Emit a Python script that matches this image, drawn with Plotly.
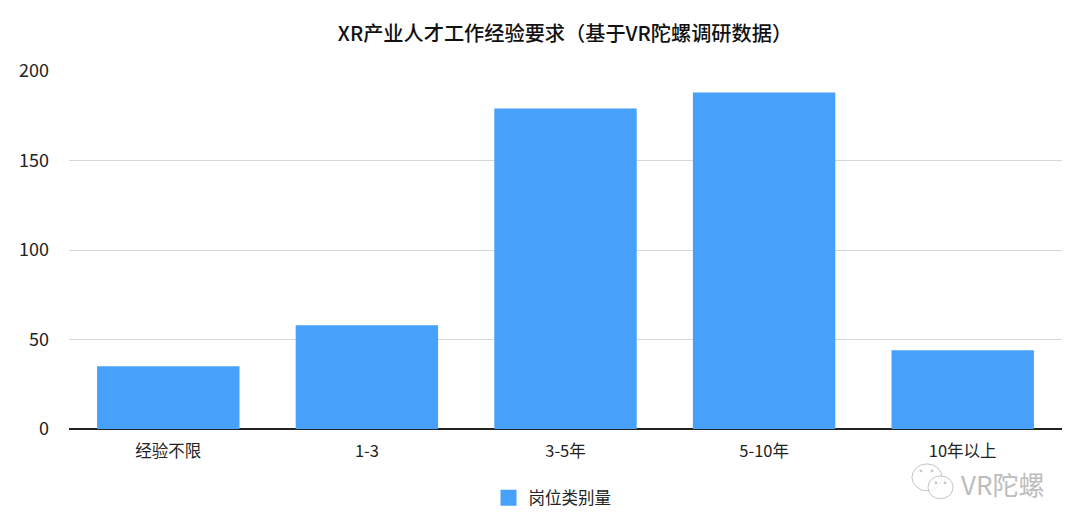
import plotly.graph_objects as go

categories = ["经验不限", "1-3", "3-5年", "5-10年", "10年以上"]
values = [35, 58, 179, 188, 44]
series_name = "岗位类别量"
title = "XR产业人才工作经验要求（基于VR陀螺调研数据）"
watermark = "VR陀螺"
FONT = "Noto Sans CJK SC, Noto Sans, sans-serif"

W, H = 1064, 516
L, R, T, B = 61, 10, 63, 94
OFFSET = 8  # page margin of the browser


def px(x):
    return (x - OFFSET - L) / (W - L - R)


def py(y):
    return (H - B - (y - OFFSET)) / (H - T - B)


def bubble(x0, y0, x1, y1):
    return dict(type="circle", xref="paper", yref="paper", x0=px(x0), x1=px(x1), y0=py(y1), y1=py(y0),
                line=dict(color="#C4C4C4", width=1), fillcolor="rgba(255,255,255,0.75)", layer="above")


def eye(cx, cy):
    return dict(type="circle", xref="paper", yref="paper", x0=px(cx - 1), x1=px(cx + 1), y0=py(cy + 1), y1=py(cy - 1),
                line=dict(color="#C4C4C4", width=1), fillcolor="#C4C4C4", layer="above")


fig = go.Figure()
fig.add_trace(go.Bar(x=categories, y=values, marker=dict(color="#47A0FA", line=dict(width=0)), width=0.717,
                     showlegend=False))
fig.add_trace(go.Scatter(x=[None], y=[None], mode="markers", name=series_name,
                         marker=dict(symbol="square", size=16, color="#47A0FA")))
fig.update_layout(
    width=W, height=H, paper_bgcolor="white", plot_bgcolor="white",
    margin=dict(l=L, r=R, t=T, b=B),
    font=dict(family=FONT, size=16, color="#222222"),
    title=dict(text=title, x=557 / W, xanchor="center", y=1 - 26 / H, yanchor="middle",
               font=dict(size=20.2, color="#111111", family="Noto Sans CJK SC Medium, Noto Sans CJK SC, sans-serif")),
    xaxis=dict(showgrid=False, showline=False, ticks="", ticklabelstandoff=10, tickfont=dict(size=16.5)),
    yaxis=dict(range=[0, 200], tickvals=[0, 50, 100, 150, 200], gridcolor="#D6D6D6", gridwidth=1,
               zeroline=True, zerolinecolor="#222222", zerolinewidth=1.5, ticks="", ticklabelstandoff=19,
               tickfont=dict(size=18)),
    legend=dict(orientation="h", x=px(552.5), xanchor="center", y=py(498), yanchor="middle",
                font=dict(size=16.5), itemwidth=30),
    shapes=[bubble(912, 465, 942, 492), eye(921, 472), eye(932, 472),
            bubble(928, 477, 953, 500), eye(936, 484), eye(945, 484)],
    annotations=[dict(text=watermark, xref="paper", yref="paper", x=px(1046), y=py(485), xanchor="right",
                      yanchor="middle", showarrow=False, font=dict(size=26, color="#BDBDBD"))],
)
fig.write_html("out.html")
